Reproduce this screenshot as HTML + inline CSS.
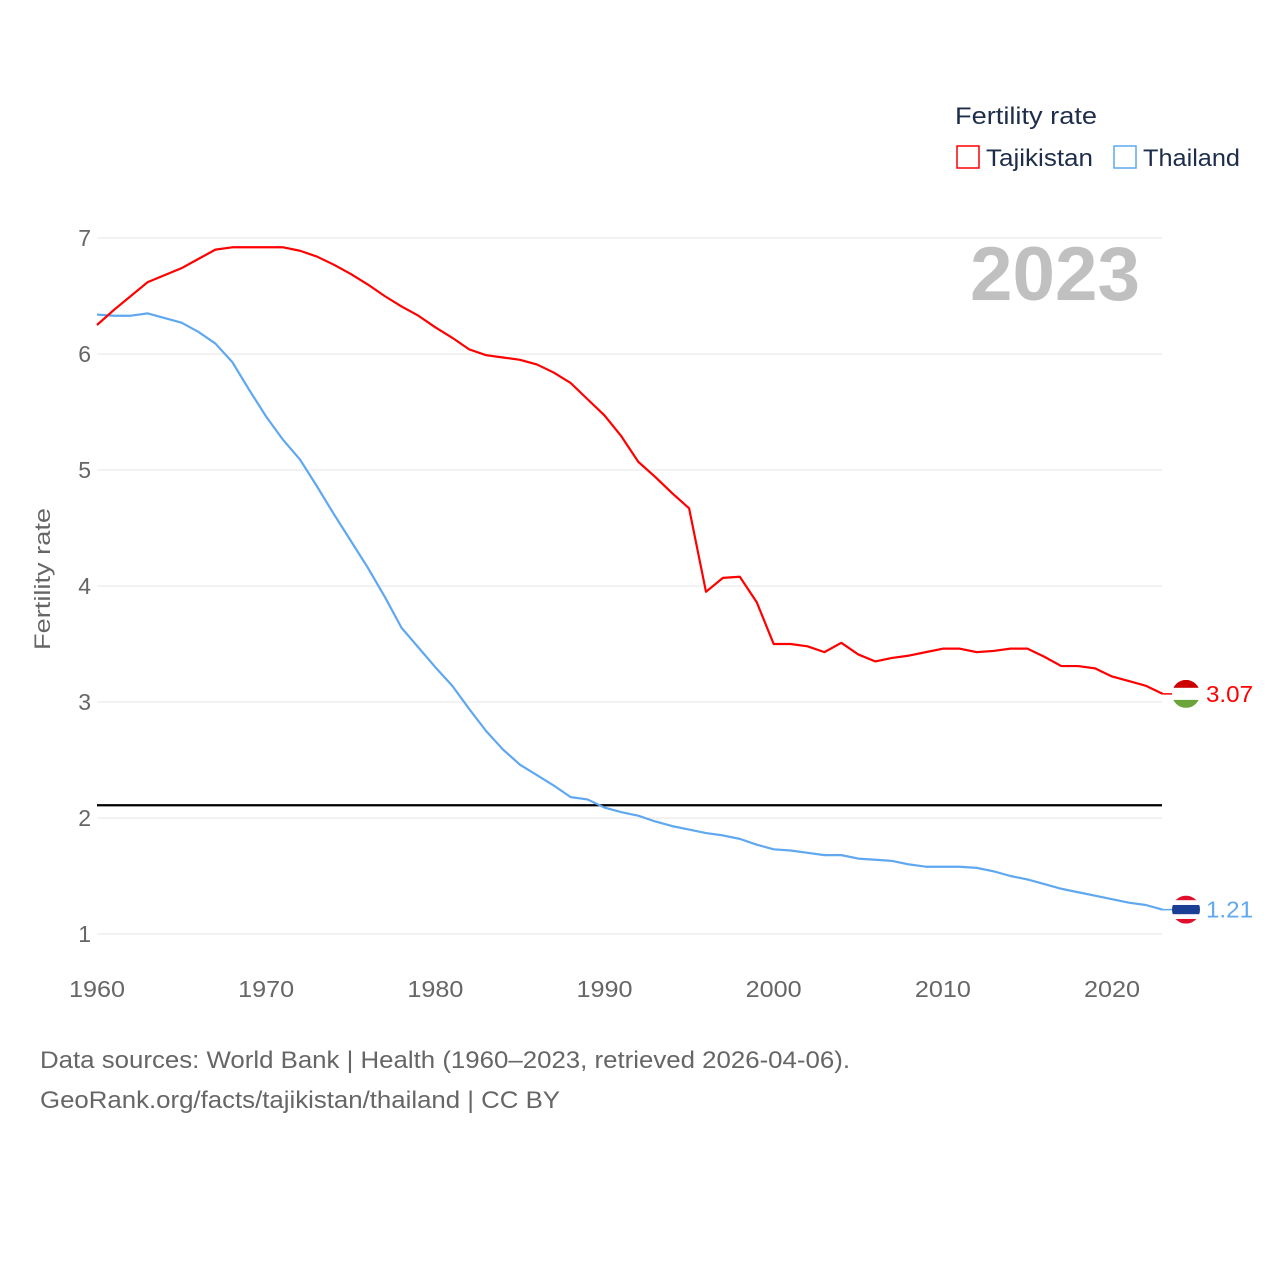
<!DOCTYPE html>
<html><head><meta charset="utf-8"><style>
body{margin:0;background:#fff;font-family:"Liberation Sans",sans-serif;}
svg text{font-family:"Liberation Sans",sans-serif;}
</style></head><body>
<svg id="chart" width="1280" height="1280" viewBox="0 0 1280 1280" xmlns="http://www.w3.org/2000/svg">
<rect width="1280" height="1280" fill="#fff"/>
<g id="grid"></g>
<text x="1140" y="300" text-anchor="end" font-size="76" font-weight="bold" fill="#c0c0c0" textLength="170" lengthAdjust="spacingAndGlyphs">2023</text>
<text transform="translate(50,579) rotate(-90)" text-anchor="middle" font-size="22" fill="#666" textLength="142" lengthAdjust="spacingAndGlyphs">Fertility rate</text>
<g id="series"></g>
<g>
<text x="955" y="124" font-size="24" fill="#1d2d4a" textLength="142" lengthAdjust="spacingAndGlyphs">Fertility rate</text>
<g><rect x="957" y="146" width="22" height="22" fill="none" stroke="#ff0000" stroke-width="1.5"/><text x="986" y="166" font-size="24" fill="#1d2d4a" textLength="107" lengthAdjust="spacingAndGlyphs">Tajikistan</text></g>
<g><rect x="1114" y="146" width="22" height="22" fill="none" stroke="#5fa8f0" stroke-width="1.5"/><text x="1143" y="166" font-size="24" fill="#1d2d4a" textLength="97" lengthAdjust="spacingAndGlyphs">Thailand</text></g>
</g>
<text x="40" y="1068" font-size="24" fill="#666" textLength="810" lengthAdjust="spacingAndGlyphs">Data sources: World Bank | Health (1960–2023, retrieved 2026-04-06).</text>
<text x="40" y="1108" font-size="24" fill="#666" textLength="520" lengthAdjust="spacingAndGlyphs">GeoRank.org/facts/tajikistan/thailand | CC BY</text>
</svg>
<script>
const years=[];for(let y=1960;y<=2023;y++)years.push(y);
const tajikistan=[6.25,6.38,6.5,6.62,6.68,6.74,6.82,6.9,6.92,6.92,6.92,6.92,6.89,6.84,6.77,6.69,6.6,6.5,6.41,6.33,6.23,6.14,6.04,5.99,5.97,5.95,5.91,5.84,5.75,5.61,5.47,5.29,5.07,4.94,4.8,4.67,3.95,4.07,4.08,3.86,3.5,3.5,3.48,3.43,3.51,3.41,3.35,3.38,3.4,3.43,3.46,3.46,3.43,3.44,3.46,3.46,3.39,3.31,3.31,3.29,3.22,3.18,3.14,3.07];
const thailand=[6.34,6.33,6.33,6.35,6.31,6.27,6.19,6.09,5.93,5.69,5.46,5.26,5.09,4.86,4.62,4.39,4.16,3.91,3.64,3.47,3.3,3.14,2.94,2.75,2.59,2.46,2.37,2.28,2.18,2.16,2.09,2.05,2.02,1.97,1.93,1.9,1.87,1.85,1.82,1.77,1.73,1.72,1.7,1.68,1.68,1.65,1.64,1.63,1.6,1.58,1.58,1.58,1.57,1.54,1.5,1.47,1.43,1.39,1.36,1.33,1.3,1.27,1.25,1.21];
const yTicks=[1,2,3,4,5,6,7];
const xTicks=[1960,1970,1980,1990,2000,2010,2020];
const replacementRate=2.11;
const NS="http://www.w3.org/2000/svg";
const X=v=>97+(v-1960)*(1015/60);
const Y=v=>934-(v-1)*116;
const grid=document.getElementById('grid'),series=document.getElementById('series');
function mk(tag,attrs,parent){const e=document.createElementNS(NS,tag);for(const k in attrs)e.setAttribute(k,attrs[k]);parent.appendChild(e);return e;}
yTicks.forEach(t=>{
 const l=mk('line',{x1:97,x2:1162,y1:Y(t),y2:Y(t),stroke:'#e6e6e6','stroke-width':1},grid);
 
 
 const tx=mk('text',{x:91,y:Y(t)+8,'text-anchor':'end','font-size':23,fill:'#666'},grid);tx.textContent=t;
 
 
});
xTicks.forEach(t=>{
 const tx=mk('text',{x:X(t),y:997,'text-anchor':'middle','font-size':23,fill:'#666',textLength:56,lengthAdjust:'spacingAndGlyphs'},grid);tx.textContent=t;
 
 
});
const rl=mk('line',{x1:97,x2:1162,y1:Y(replacementRate),y2:Y(replacementRate),stroke:'#000','stroke-width':2.2},grid);


function line(vals,color,name){
 const p=mk('polyline',{points:vals.map((v,i)=>X(years[i])+','+Y(v)).join(' '),fill:'none',stroke:color,'stroke-width':2.2,'stroke-linejoin':'round'},series);
 
 
}
line(thailand,'#5fa8f0','thailand-line');
line(tajikistan,'#ff0000','tajikistan-line');
function flag(v,stripes,color,name,dy){
 const cy=Y(v),cx=1186;
 const g=mk('g',{},series);
 
 
 mk('line',{x1:X(2023),x2:cx-14,y1:cy,y2:cy,stroke:color,'stroke-width':1.5},g);
 const fy=cy+dy;
 const id='c'+name;
 const cp=mk('clipPath',{id:id},g);mk('circle',{cx:cx,cy:fy,r:14},cp);
 let yy=fy-14;stripes.forEach(s=>{mk('rect',{x:cx-14,y:yy,width:28,height:28*s[1],fill:s[0],'clip-path':'url(#'+id+')'},g);yy+=28*s[1];});
 const t=mk('text',{x:1206,y:fy+8,'font-size':23,fill:color,textLength:47,lengthAdjust:'spacingAndGlyphs'},g);t.textContent=v.toFixed(2);
}
flag(tajikistan[tajikistan.length-1],[['#cc0000',2/7],['#ffffff',3/7],['#6aa43a',2/7]],'#ff0000','tajikistan-end-label',0);
flag(thailand[thailand.length-1],[['#e0102c',1/6],['#ffffff',1/6],['#1b3f95',2/6],['#ffffff',1/6],['#e0102c',1/6]],'#5fa8f0','thailand-end-label',0);
</script>
</body></html>
